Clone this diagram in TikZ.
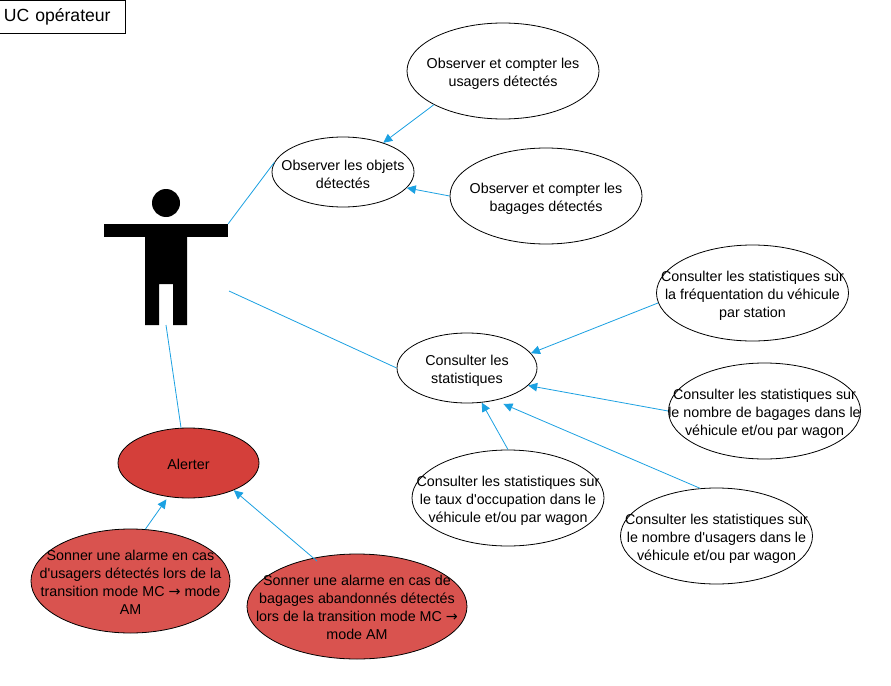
\documentclass[tikz,border=0pt]{standalone}
\usepackage{fontspec}
\setmainfont{Liberation Sans}
\newfontfamily\arrowfont{DejaVu Sans}
\usetikzlibrary{shapes.geometric,arrows.meta}
\definecolor{linkblue}{HTML}{1BA1E2}
\definecolor{alertred}{HTML}{D43F3A}
\definecolor{alarmred}{HTML}{D9534F}
\tikzset{
  uc/.style={draw=black, fill=white, ellipse, inner sep=0pt, line width=0.8pt},
  uclarge/.style={uc, minimum width=192pt, minimum height=96pt},
  ucsmall/.style={uc, minimum width=140pt, minimum height=70pt},
  uclabel/.style={align=center, font=\fontsize{14.3}{18}\selectfont, inner sep=0pt},
  uctext/.style={label={[uclabel, yshift=-2.8pt]center:{#1}}},
  redtext/.style={label={[uclabel, yshift=-1pt]center:{#1}}},
  assoc/.style={linkblue, line width=0.8pt},
  incl/.style={assoc, -{Triangle[length=9pt,width=8.5pt]}},
  actorpart/.style={fill=black, draw=none, inner sep=0pt}
}
\begin{document}
\begin{tikzpicture}[x=1pt, y=-1pt]
\useasboundingbox (0,0) rectangle (891,685);
\fill [white] (0,0) rectangle (891,685);

\node [draw=black, line width=0.8pt, minimum width=126pt, minimum height=33pt, inner sep=0pt,
  text width=117pt, font=\fontsize{17.6}{18}\selectfont] (title) at (62.5,16.5) {UC opérateur};

% actor:
\node [actorpart, circle, minimum size=28pt] (actorHead) at (166,203) {};
\node [actorpart, rectangle, minimum width=124pt, minimum height=13pt] (actorArms) at (166,230.5) {};
\fill [black] (145,237) -- (187,237) -- (187,325) -- (173,325) -- (173,284)
  -- (159,284) -- (159,325) -- (145,325) -- cycle;
\coordinate (actorHip) at (229,291);
\coordinate (actorFoot) at (166,325);

% use cases:
\node [uclarge, uctext={Observer et compter les\\usagers détectés}] (obsUsagers) at (503,71) {};
\node [ucsmall, minimum width=142pt, uctext={Observer les objets\\détectés}] (obsObjets) at (343,172) {};
\node [uclarge, uctext={Observer et compter les\\bagages détectés}] (obsBagages) at (546,196) {};
\node [ucsmall, uctext={Consulter les\\statistiques}] (stats) at (467,368) {};
\node [uclarge, uctext={Consulter les statistiques sur\\la fréquentation du véhicule\\par station}] (statsFreq) at (752.5,293) {};
\node [uclarge, uctext={Consulter les statistiques sur\\le nombre de bagages dans le\\véhicule et/ou par wagon}] (statsBagages) at (764.5,411) {};
\node [uclarge, uctext={Consulter les statistiques sur\\le taux d\textquotesingle occupation dans le\\véhicule et/ou par wagon}] (statsTaux) at (508,498) {};
\node [uclarge, uctext={Consulter les statistiques sur\\le nombre d\textquotesingle usagers dans le\\véhicule et/ou par wagon}] (statsUsagers) at (716.5,536) {};

% red ones:
\node [ucsmall, minimum width=141pt, fill=alertred, redtext={Alerter}] (alerter) at (188.5,463) {};
\node [uc, minimum width=199pt, minimum height=104pt, fill=alarmred,
  redtext={Sonner une alarme en cas\\d\textquotesingle usagers détectés lors de la\\transition mode MC {\arrowfont →} mode\\AM}] (alarmUsagers) at (130.5,581) {};
\node [uc, minimum width=220pt, minimum height=105pt, fill=alarmred,
  redtext={Sonner une alarme en cas de\\bagages abandonnés détectés\\lors de la transition mode MC {\arrowfont →}\\mode AM}] (alarmBagages) at (357,606.5) {};

% links:
\draw [assoc] (actorArms.north east) -- (obsObjets.172.6);
\draw [assoc] (actorHip) -- (stats.west);
\draw [assoc] (alerter.102) -- (actorFoot);
\draw [incl] (obsUsagers.206.9) -- (obsObjets.36);
\draw [incl] (obsBagages.west) -- (obsObjets.-14);
\draw [incl] (statsFreq.186) -- (stats.13);
\draw [incl] (statsBagages.west) -- (stats.-16.7);
\draw [incl] (statsTaux.north) -- (stats.-67.6);
\draw [incl, shorten >=9pt] (statsUsagers.109.3) -- (stats.-49.6);
\draw [incl, shorten >=3pt] (alarmUsagers.74) -- (alerter.239.4);
\draw [incl, shorten <=-5pt] (alarmBagages.132.3) -- (alerter.-31.7);

\end{tikzpicture}
\end{document}
